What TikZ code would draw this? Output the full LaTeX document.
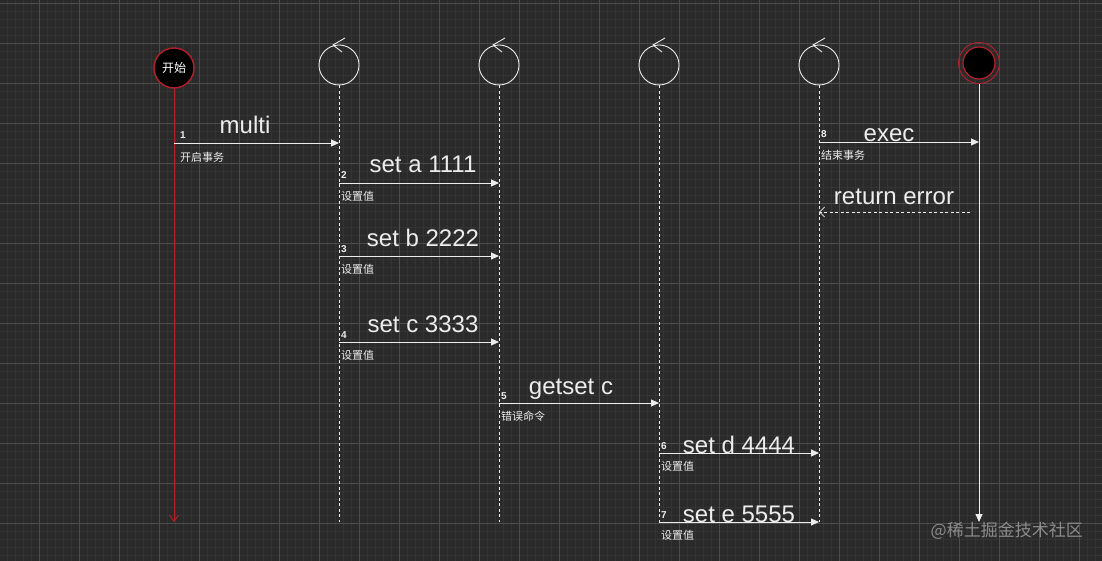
\documentclass[tikz,border=0pt]{standalone}
\usepackage{fontspec}
\setmainfont{Liberation Sans}
\newfontfamily\cjk{Noto Sans CJK SC}
\usetikzlibrary{arrows.meta}
\definecolor{bg}{HTML}{2A2A2A}
\definecolor{gminor}{HTML}{343434}
\definecolor{gmajor}{HTML}{4C4C4C}
\definecolor{fg}{HTML}{EDEDED}
\definecolor{redl}{HTML}{B3202A}
\definecolor{wm}{HTML}{8C8C8C}
\tikzset{
  ctrl/.style={circle, draw=fg, line width=0.9pt, minimum size=40pt, inner sep=0pt},
  ctrlw/.style={draw=fg, line width=0.9pt},
  life/.style={draw=fg, line width=0.8pt, dash pattern=on 3pt off 2.5pt},
  msg/.style={draw=fg, line width=0.9pt, -{Triangle[length=8pt,width=7pt]}},
  ret/.style={draw=fg, line width=0.8pt, dash pattern=on 3pt off 2.5pt, -{Straight Barb[length=5pt,width=10pt]}},
  big/.style={font=\fontsize{24}{26}\selectfont, text=fg, inner sep=0pt, anchor=base},
  num/.style={font=\fontsize{10}{11}\selectfont\bfseries, text=fg, inner sep=0pt, anchor=base west},
  note/.style={font=\cjk\fontsize{11}{12}\selectfont, text=fg, inner sep=0pt, anchor=west},
}
\begin{document}
\begin{tikzpicture}[x=1pt,y=-1pt]
\useasboundingbox (0,0) rectangle (1102,561);
\fill[bg] (0,0) rectangle (1102,561);
\foreach \x in {7,15,...,1102} \draw[gminor, line width=0.6pt] (\x,0) -- (\x,561);
\foreach \y in {3,11,...,561} \draw[gminor, line width=0.6pt] (0,\y) -- (1102,\y);
\foreach \x in {39,79,...,1102} \draw[gmajor, line width=0.7pt] (\x,0) -- (\x,561);
\foreach \y in {3,43,...,561} \draw[gmajor, line width=0.7pt] (0,\y) -- (1102,\y);

% start
\node[circle, fill=black, draw=redl, line width=1.4pt, minimum size=40pt, inner sep=0pt,
      font=\cjk\fontsize{12}{13}\selectfont, text=white] (A) at (174,68) {开始};
\coordinate (Aend) at (174,522);
\draw[redl, line width=0.9pt, -{Straight Barb[length=6pt,width=9pt]}] (A.south) -- (Aend);

% control lifelines
\foreach \n/\x in {B/339,C/499,D/659,E/819} {
  \node[ctrl] (\n) at (\x,65) {};
  \draw[ctrlw] ([shift={(6,-27)}]\n.center) -- ([shift={(-6,-20)}]\n.center) -- ([shift={(3,-13)}]\n.center);
  \coordinate (\n end) at (\x,522);
  \draw[life] (\n.south) -- (\n end);
}

% end
\node[circle, draw=redl, line width=0.9pt, minimum size=41pt, inner sep=0pt] (F) at (979,63) {};
\node[circle, fill=black, draw=redl, line width=1.2pt, minimum size=32pt, inner sep=0pt] (Fin) at (979,63) {};
\coordinate (Fend) at (979,522);
\draw[msg] (F.south) -- (Fend);

% messages
\draw[msg] (A |- 0,143) -- (B |- 0,143);
\node[big] at (245,134) {multi};
\node[num] at (180,139) {1};
\node[note] at (180,157) {开启事务};

\draw[msg] (B |- 0,183) -- (C |- 0,183);
\node[big] at (423,173) {set a 1111};
\node[num] at (341,179) {2};
\node[note] at (341,196) {设置值};

\draw[msg] (B |- 0,256) -- (C |- 0,256);
\node[big] at (423,247) {set b 2222};
\node[num] at (341,252) {3};
\node[note] at (341,269) {设置值};

\draw[msg] (B |- 0,342) -- (C |- 0,342);
\node[big] at (423,332) {set c 3333};
\node[num] at (341,338) {4};
\node[note] at (341,355) {设置值};

\draw[msg] (C |- 0,403) -- (D |- 0,403);
\node[big] at (571,394) {getset c};
\node[num] at (501,399) {5};
\node[note] at (501,416) {错误命令};

\draw[msg] (D |- 0,453) -- (E |- 0,453);
\node[big] at (739,453) {set d 4444};
\node[num] at (661,449) {6};
\node[note] at (661,466) {设置值};

\draw[msg] (D |- 0,522) -- (E |- 0,522);
\node[big] at (739,522) {set e 5555};
\node[num] at (661,518) {7};
\node[note] at (661,535) {设置值};

\draw[msg] (E |- 0,142) -- (F |- 0,142);
\node[big] at (889,142) {exec};
\node[num] at (821,138) {8};
\node[note] at (821,155) {结束事务};

\coordinate (R) at (970,212);
\draw[ret] (R) -- (E |- R);
\node[big] at (894,205) {return error};

% watermark
\node[font=\cjk\fontsize{17}{18}\selectfont, text=wm, inner sep=0pt, anchor=east] (W) at (1083,531) {@稀土掘金技术社区};
\end{tikzpicture}
\end{document}
